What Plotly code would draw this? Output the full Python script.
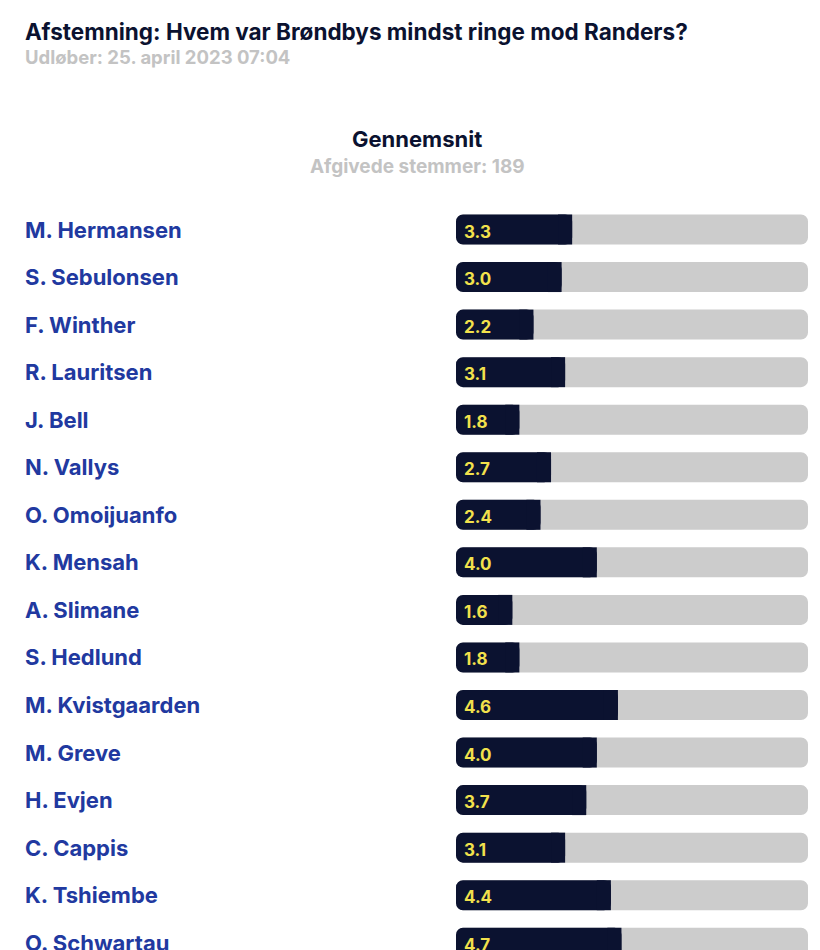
import plotly.graph_objects as go

players = ["M. Hermansen", "S. Sebulonsen", "F. Winther", "R. Lauritsen", "J. Bell",
           "N. Vallys", "O. Omoijuanfo", "K. Mensah", "A. Slimane", "S. Hedlund",
           "M. Kvistgaarden", "M. Greve", "H. Evjen", "C. Cappis", "K. Tshiembe",
           "O. Schwartau"]
ratings = [3.3, 3.0, 2.2, 3.1, 1.8, 2.7, 2.4, 4.0, 1.6, 1.8, 4.6, 4.0, 3.7, 3.1, 4.4, 4.7]
scale_max = 10
title = "Afstemning: Hvem var Brøndbys mindst ringe mod Randers?"
subtitle = "Udløber: 25. april 2023 07:04"
heading = "Gennemsnit"
votes_text = "Afgivede stemmer: 189"

W, H = 820, 950
FONT = "Inter"
NAVY = "#0b1230"
BLUE = "#2139a0"
GRAY = "#cccccc"
YELLOW = "#f2e14c"
SUB = "#c3c3c3"

row_px = 47.55
first_px = 229.5
y_top = -first_px / row_px
y_bot = (H - first_px) / row_px
bar_w = 30 / row_px
sq = 0.4  # square cap width in data units

idx = list(range(len(players)))
fig = go.Figure()
fig.add_trace(go.Bar(y=idx, x=[scale_max] * len(idx), base=[0] * len(idx),
                     orientation="h", width=bar_w,
                     marker=dict(color=GRAY, line_width=0, cornerradius=7),
                     hoverinfo="skip"))
fig.add_trace(go.Bar(y=idx, x=ratings, base=[0] * len(idx),
                     orientation="h", width=bar_w,
                     marker=dict(color=NAVY, line_width=0, cornerradius=7),
                     hoverinfo="skip"))
fig.add_trace(go.Bar(y=idx, x=[sq] * len(idx), base=[v - sq for v in ratings],
                     orientation="h", width=bar_w,
                     marker=dict(color=NAVY, line_width=0, cornerradius=0.3),
                     hoverinfo="skip"))

ann = []
for i, (p, v) in enumerate(zip(players, ratings)):
    ann.append(dict(x=23 / W, xref="paper", y=i, yref="y", text=p, showarrow=False,
                    xanchor="left", yanchor="middle",
                    font=dict(family=FONT, size=22, color=BLUE, weight="bold")))
    ann.append(dict(x=0, xref="x", y=i, yref="y", text=f"{v:.1f}", showarrow=False,
                    xanchor="left", yanchor="middle", xshift=6, yshift=-2,
                    font=dict(family=FONT, size=17, color=YELLOW, weight="bold")))

ann += [
    dict(x=23 / W, y=1 - 31 / H, xref="paper", yref="paper", text=title, showarrow=False,
         xanchor="left", yanchor="middle",
         font=dict(family=FONT, size=22.5, color=NAVY, weight="bold")),
    dict(x=23 / W, y=1 - 57 / H, xref="paper", yref="paper", text=subtitle, showarrow=False,
         xanchor="left", yanchor="middle",
         font=dict(family=FONT, size=18.5, color=SUB, weight="bold")),
    dict(x=417 / W, y=1 - 139 / H, xref="paper", yref="paper", text=heading, showarrow=False,
         xanchor="center", yanchor="middle",
         font=dict(family=FONT, size=22, color=NAVY, weight="bold")),
    dict(x=417 / W, y=1 - 166 / H, xref="paper", yref="paper", text=votes_text, showarrow=False,
         xanchor="center", yanchor="middle",
         font=dict(family=FONT, size=19, color=SUB, weight="bold")),
]

fig.update_layout(
    width=W, height=H, margin=dict(l=0, r=0, t=0, b=0),
    paper_bgcolor="white", plot_bgcolor="white",
    barmode="overlay", showlegend=False,
    xaxis=dict(domain=[456 / W, 808 / W], range=[0, scale_max], visible=False, fixedrange=True),
    yaxis=dict(domain=[0, 1], range=[y_bot, y_top], visible=False, fixedrange=True),
    annotations=ann,
)
fig.write_html("out.html")
